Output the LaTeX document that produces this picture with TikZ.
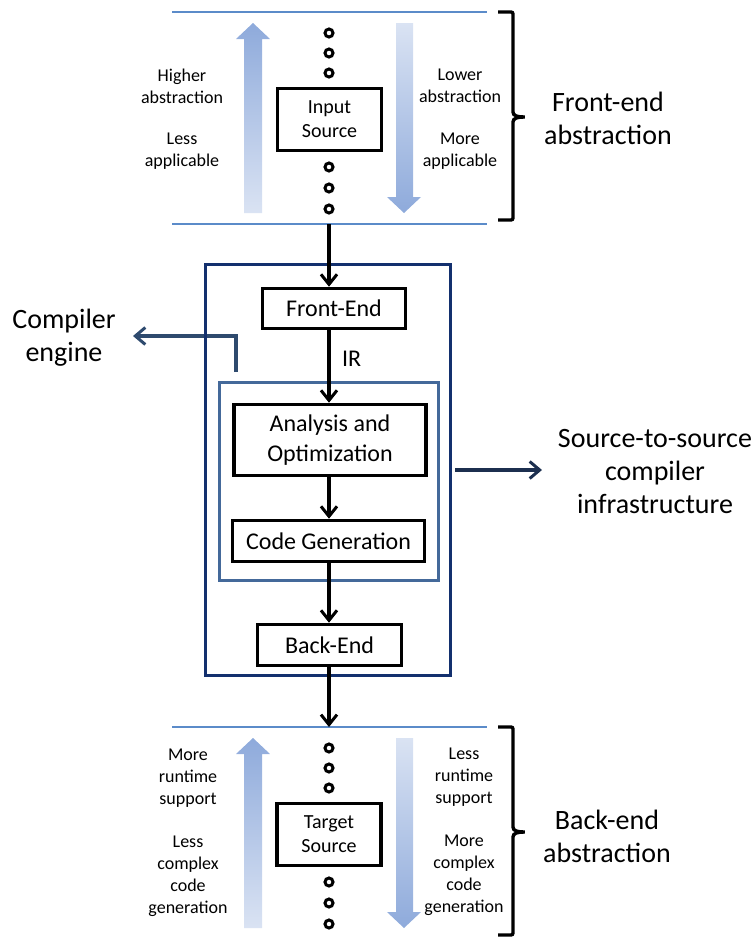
\documentclass[tikz,border=0pt]{standalone}
\usepackage{fontspec}
\setmainfont{Carlito}
\usetikzlibrary{arrows.meta,positioning}
\definecolor{navy}{HTML}{13306E}
\definecolor{steel}{HTML}{44699A}
\definecolor{slate}{HTML}{2E4A6E}
\definecolor{ink}{HTML}{1C2F4F}
\definecolor{rule}{HTML}{5B8BC9}
\definecolor{deep}{HTML}{8EAADB}
\definecolor{pale}{HTML}{DAE3F3}

\begin{document}
\begin{tikzpicture}[x=1pt,y=-1pt,
  stage/.style={draw,line width=3.6pt,align=center,inner sep=0pt,
    font=\fontsize{24}{30}\selectfont},
  srcbox/.style={stage,font=\fontsize{20}{24}\selectfont,minimum width=104,
    minimum height=62},
  note/.style={align=center,font=\fontsize{18}{22}\selectfont},
  big/.style={align=center,font=\fontsize{28}{33}\selectfont},
  flow/.style={-{Straight Barb[length=10pt,width=16pt,line width=3pt]},line width=3.4pt},
  side/.style={-{Straight Barb[length=10pt,width=17pt,line width=3pt]},line width=3.4pt},
  rulerline/.style={rule,line width=2.4pt},
  brc/.style={line width=3.4pt,rounded corners=2pt},
  dot/.style={line width=3pt}]
\useasboundingbox (0,0) rectangle (753,937);

% the two abstraction ladders
\foreach \dy in {0,715} {
  \draw[rulerline] (172,12+\dy) -- (487,12+\dy);
  \shade[top color=deep,bottom color=pale] (244,213+\dy) -- (244,39+\dy)
    -- (236,39+\dy) -- (253,23+\dy) -- (270,39+\dy) -- (262,39+\dy)
    -- (262,213+\dy) -- cycle;
  \shade[top color=pale,bottom color=deep] (396,23+\dy) -- (396,197+\dy)
    -- (387,197+\dy) -- (404,213+\dy) -- (421,197+\dy) -- (413,197+\dy)
    -- (413,23+\dy) -- cycle;
  \foreach \y in {33,53,73,167,188,209}
    \draw[dot] (329,\y+\dy) circle (4);
  \draw[brc] (498,12+\dy) -- (513,12+\dy) -- (513,110+\dy)
    .. controls (513,116+\dy) and (518,117+\dy) .. (526,117+\dy)
    .. controls (518,117+\dy) and (513,118+\dy) .. (513,124+\dy)
    -- (513,220+\dy) -- (498,220+\dy);
}
\draw[rulerline] (172,224) -- (487,224);

\node[srcbox] (inputsrc) at (329.5,119.5) {Input\\Source};
\node[srcbox] (targetsrc) at (329,834.5) {Target\\Source};

\node[note] (higher) at (182,86) {Higher\\abstraction};
\node[note] (lessapp) at (182,151) {Less\\applicable};
\node[note] (lower) at (460,86) {Lower\\abstraction};
\node[note] (moreapp) at (460,151) {More\\applicable};
\node[big] (frontabs) at (608,118) {Front-end\\abstraction};

\node[note] (morert) at (188,778) {More\\runtime\\support};
\node[note] (lesscg) at (188,876) {Less\\complex\\code\\generation};
\node[note] (lessrt) at (464,777) {Less\\runtime\\support};
\node[note] (morecg) at (464,875) {More\\complex\\code\\generation};
\node[big] (backabs) at (607,836) {Back-end\\abstraction};

% compiler engine pointer (goes under the outer frame)
\node[big] (compeng) at (64,338) {Compiler\\engine};
\coordinate (engstart) at (236,372);
\coordinate (engtip) at (133,336);
\draw[side,slate] (engstart) |- (engtip);

% infrastructure
\node[draw=navy,line width=3.4pt,minimum width=245,minimum height=411] (infra)
  at (328,470) {};
\node[draw=steel,line width=3.4pt,minimum width=219,minimum height=198] (engine)
  at (329,481.5) {};

\node[stage,minimum width=143,minimum height=40] (frontend) at (334,308.5) {Front-End};
\node[stage,minimum width=192,minimum height=71] (analysis) at (330,440)
  {Analysis and\\Optimization};
\node[stage,minimum width=192,minimum height=41] (codegen) at (328.5,541)
  {Code Generation};
\node[stage,minimum width=144,minimum height=41] (backend) at (329.5,645) {Back-End};

\node[big] (s2s) at (655,472) {Source-to-source\\compiler\\infrastructure};
\coordinate (s2stip) at (542,470);
\draw[side,ink,shorten <=3pt] (infra.east) -- (s2stip);

\coordinate (inpt) at (329,224);
\coordinate (outpt) at (329,727);
\draw[flow] (inpt) -- (inpt |- frontend.north);
\draw[flow] (inpt |- frontend.south) -- node[right=8pt,yshift=8pt,
  font=\fontsize{24}{29}\selectfont] (ir) {IR} (inpt |- analysis.north);
\draw[flow] (inpt |- analysis.south) -- (inpt |- codegen.north);
\draw[flow] (inpt |- codegen.south) -- (inpt |- backend.north);
\draw[flow] (inpt |- backend.south) -- (outpt);
\end{tikzpicture}
\end{document}
